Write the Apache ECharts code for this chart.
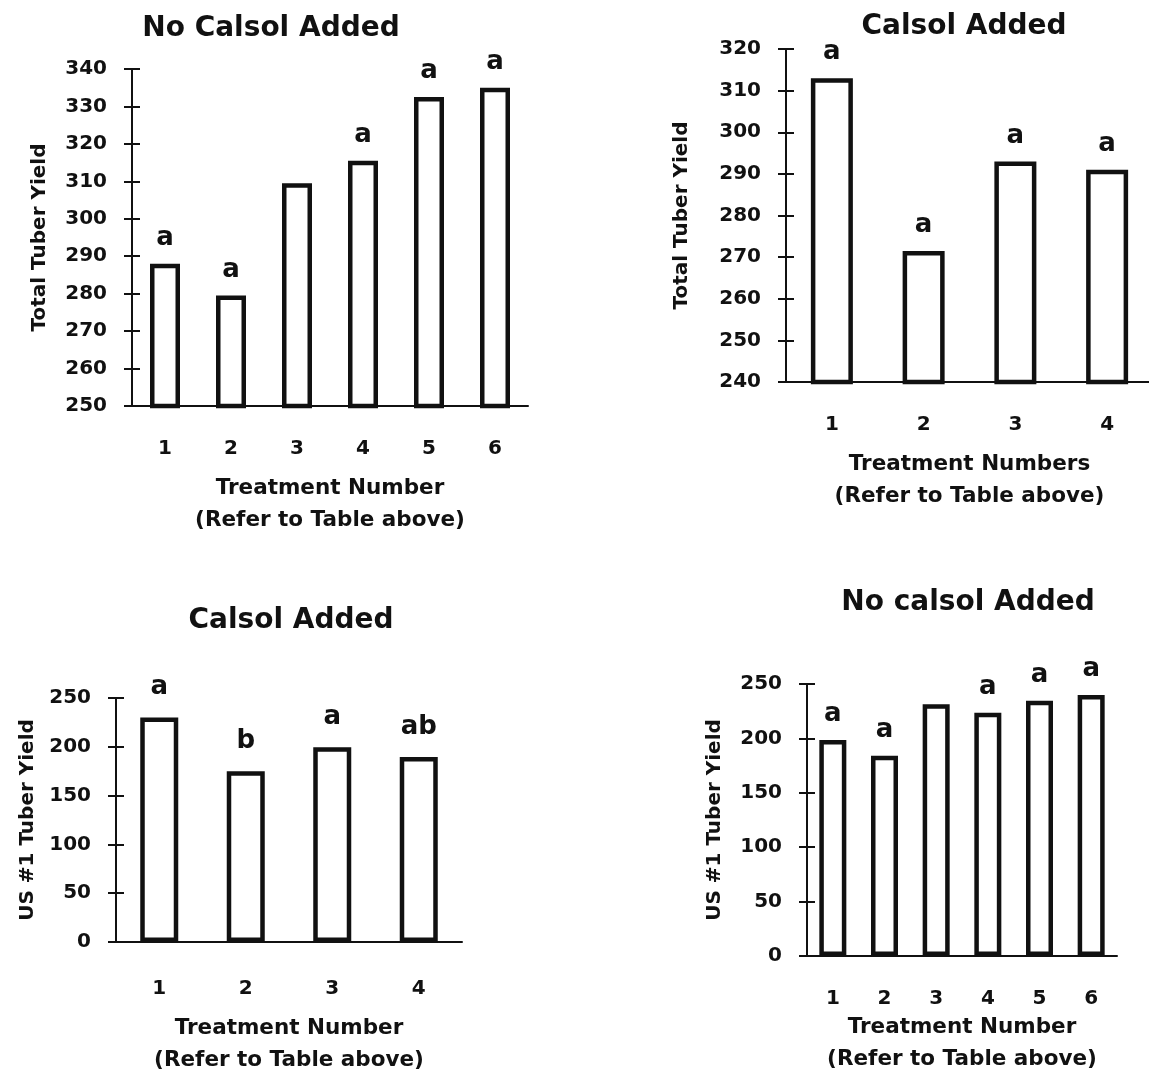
<!DOCTYPE html>
<html>
<head>
<meta charset="utf-8">
<script src="https://cdn.jsdelivr.net/npm/echarts@6/dist/echarts.min.js"></script>
<style>
  html, body { margin: 0; padding: 0; background: #fff; }
  #chart { width: 1149px; height: 1075px; }
</style>
</head>
<body>
<div id="chart"></div>
<script>
// treatment categories
const treatments6 = ["1", "2", "3", "4", "5", "6"];
const treatments4 = ["1", "2", "3", "4"];

// total tuber yield
const totalNoCalsol = [288, 279.5, 309.5, 315.5, 332.5, 335];
const totalNoCalsolLetters = ["a", "a", "", "a", "a", "a"];
const totalCalsol = [313, 271.5, 293, 291];
const totalCalsolLetters = ["a", "a", "a", "a"];

// US #1 tuber yield
const us1Calsol = [230, 175, 199.5, 189.5];
const us1CalsolLetters = ["a", "b", "a", "ab"];
const us1NoCalsol = [198.5, 184, 231.5, 223.5, 234.5, 240];
const us1NoCalsolLetters = ["a", "a", "", "a", "a", "a"];

const FONT = "DejaVu Sans";
const INK = "#111";

const panels = [
  {
    title: "No Calsol Added", titleX: 271, titleY: 29,
    cats: treatments6, values: totalNoCalsol, letters: totalNoCalsolLetters,
    yName: "Total Tuber Yield", yNameGap: 82,
    xName: "Treatment Number\n(Refer to Table above)", xNameGap: 67,
    min: 250, max: 340, interval: 10,
    grid: { left: 132, top: 69, width: 396, height: 337 },
    barWidth: 30, labelGap: 12.5, xLabelMargin: 33,
  },
  {
    title: "Calsol Added", titleX: 964, titleY: 27,
    cats: treatments4, values: totalCalsol, letters: totalCalsolLetters,
    yName: "Total Tuber Yield", yNameGap: 94,
    xName: "Treatment Numbers\n(Refer to Table above)", xNameGap: 67,
    min: 240, max: 320, interval: 10,
    grid: { left: 786, top: 49, width: 367, height: 333 },
    barWidth: 42, labelGap: 12.5, xLabelMargin: 33,
  },
  {
    title: "Calsol Added", titleX: 291, titleY: 621,
    cats: treatments4, values: us1Calsol, letters: us1CalsolLetters,
    yName: "US #1 Tuber Yield", yNameGap: 78,
    xName: "Treatment Number\n(Refer to Table above)", xNameGap: 71,
    min: 0, max: 250, interval: 50,
    grid: { left: 116, top: 698, width: 346, height: 244 },
    barWidth: 38, labelGap: 17, xLabelMargin: 37,
  },
  {
    title: "No calsol Added", titleX: 968, titleY: 603,
    cats: treatments6, values: us1NoCalsol, letters: us1NoCalsolLetters,
    yName: "US #1 Tuber Yield", yNameGap: 82,
    xName: "Treatment Number\n(Refer to Table above)", xNameGap: 56,
    min: 0, max: 250, interval: 50,
    grid: { left: 807, top: 684, width: 310, height: 272 },
    barWidth: 27, labelGap: 12.5, xLabelMargin: 33,
  },
];

const tickStyle = { color: INK, width: 2 };
const option = {
  animation: false,
  backgroundColor: "#fff",
  grid: [],
  xAxis: [],
  yAxis: [],
  series: [],
  graphic: [],
};

panels.forEach((p, i) => {
  const ax = 2 * i;
  option.grid.push(Object.assign({ outerBoundsMode: "none", containLabel: false }, p.grid));

  // main x axis: line, outward ticks, labels, name
  option.xAxis.push({
    type: "category",
    gridIndex: i,
    position: "bottom",
    data: p.cats,
    axisLine: { lineStyle: { color: INK, width: 2 } },
    axisTick: { length: 8, lineStyle: tickStyle },
    axisLabel: { color: INK, fontFamily: FONT, fontWeight: "bold", fontSize: 20, margin: p.xLabelMargin },
    name: p.xName,
    nameLocation: "middle",
    nameGap: p.xNameGap,
    nameTextStyle: { color: INK, fontFamily: FONT, fontWeight: "bold", fontSize: 21.5, lineHeight: 31.5 },
  });
  // second x axis only for the inner half of the ticks
  option.xAxis.push({
    type: "category",
    gridIndex: i,
    position: "bottom",
    data: p.cats,
    axisLine: { show: false },
    axisTick: { inside: true, length: 8, lineStyle: tickStyle },
    axisLabel: { show: false },
  });

  option.yAxis.push({
    type: "value",
    gridIndex: i,
    position: "left",
    min: p.min,
    max: p.max,
    interval: p.interval,
    splitLine: { show: false },
    axisLine: { show: true, lineStyle: { color: INK, width: 2 } },
    axisTick: { show: true, length: 8, lineStyle: tickStyle },
    axisLabel: { color: INK, fontFamily: FONT, fontWeight: "bold", fontSize: 20, margin: 25 },
    name: p.yName,
    nameLocation: "middle",
    nameGap: p.yNameGap,
    nameTextStyle: { color: INK, fontFamily: FONT, fontWeight: "bold", fontSize: 20 },
  });
  option.yAxis.push({
    type: "value",
    gridIndex: i,
    position: "left",
    min: p.min,
    max: p.max,
    interval: p.interval,
    splitLine: { show: false },
    axisLine: { show: false },
    axisTick: { show: true, inside: true, length: 8, lineStyle: tickStyle },
    axisLabel: { show: false },
  });

  option.series.push({
    type: "bar",
    xAxisIndex: ax,
    yAxisIndex: ax,
    data: p.values,
    barWidth: p.barWidth,
    itemStyle: { color: "#fff", borderColor: INK, borderWidth: 4.5 },
    label: {
      show: true,
      position: "top",
      distance: p.labelGap,
      formatter: (d) => p.letters[d.dataIndex],
      color: INK,
      fontFamily: FONT,
      fontWeight: "bold",
      fontSize: 26,
    },
  });

  option.graphic.push({
    type: "text",
    x: p.titleX,
    y: p.titleY,
    style: {
      text: p.title,
      font: 'bold 28px "DejaVu Sans"',
      fill: INK,
      textAlign: "center",
      textVerticalAlign: "middle",
    },
  });
});

const chart = echarts.init(document.getElementById("chart"));
chart.setOption(option);
</script>
</body>
</html>
